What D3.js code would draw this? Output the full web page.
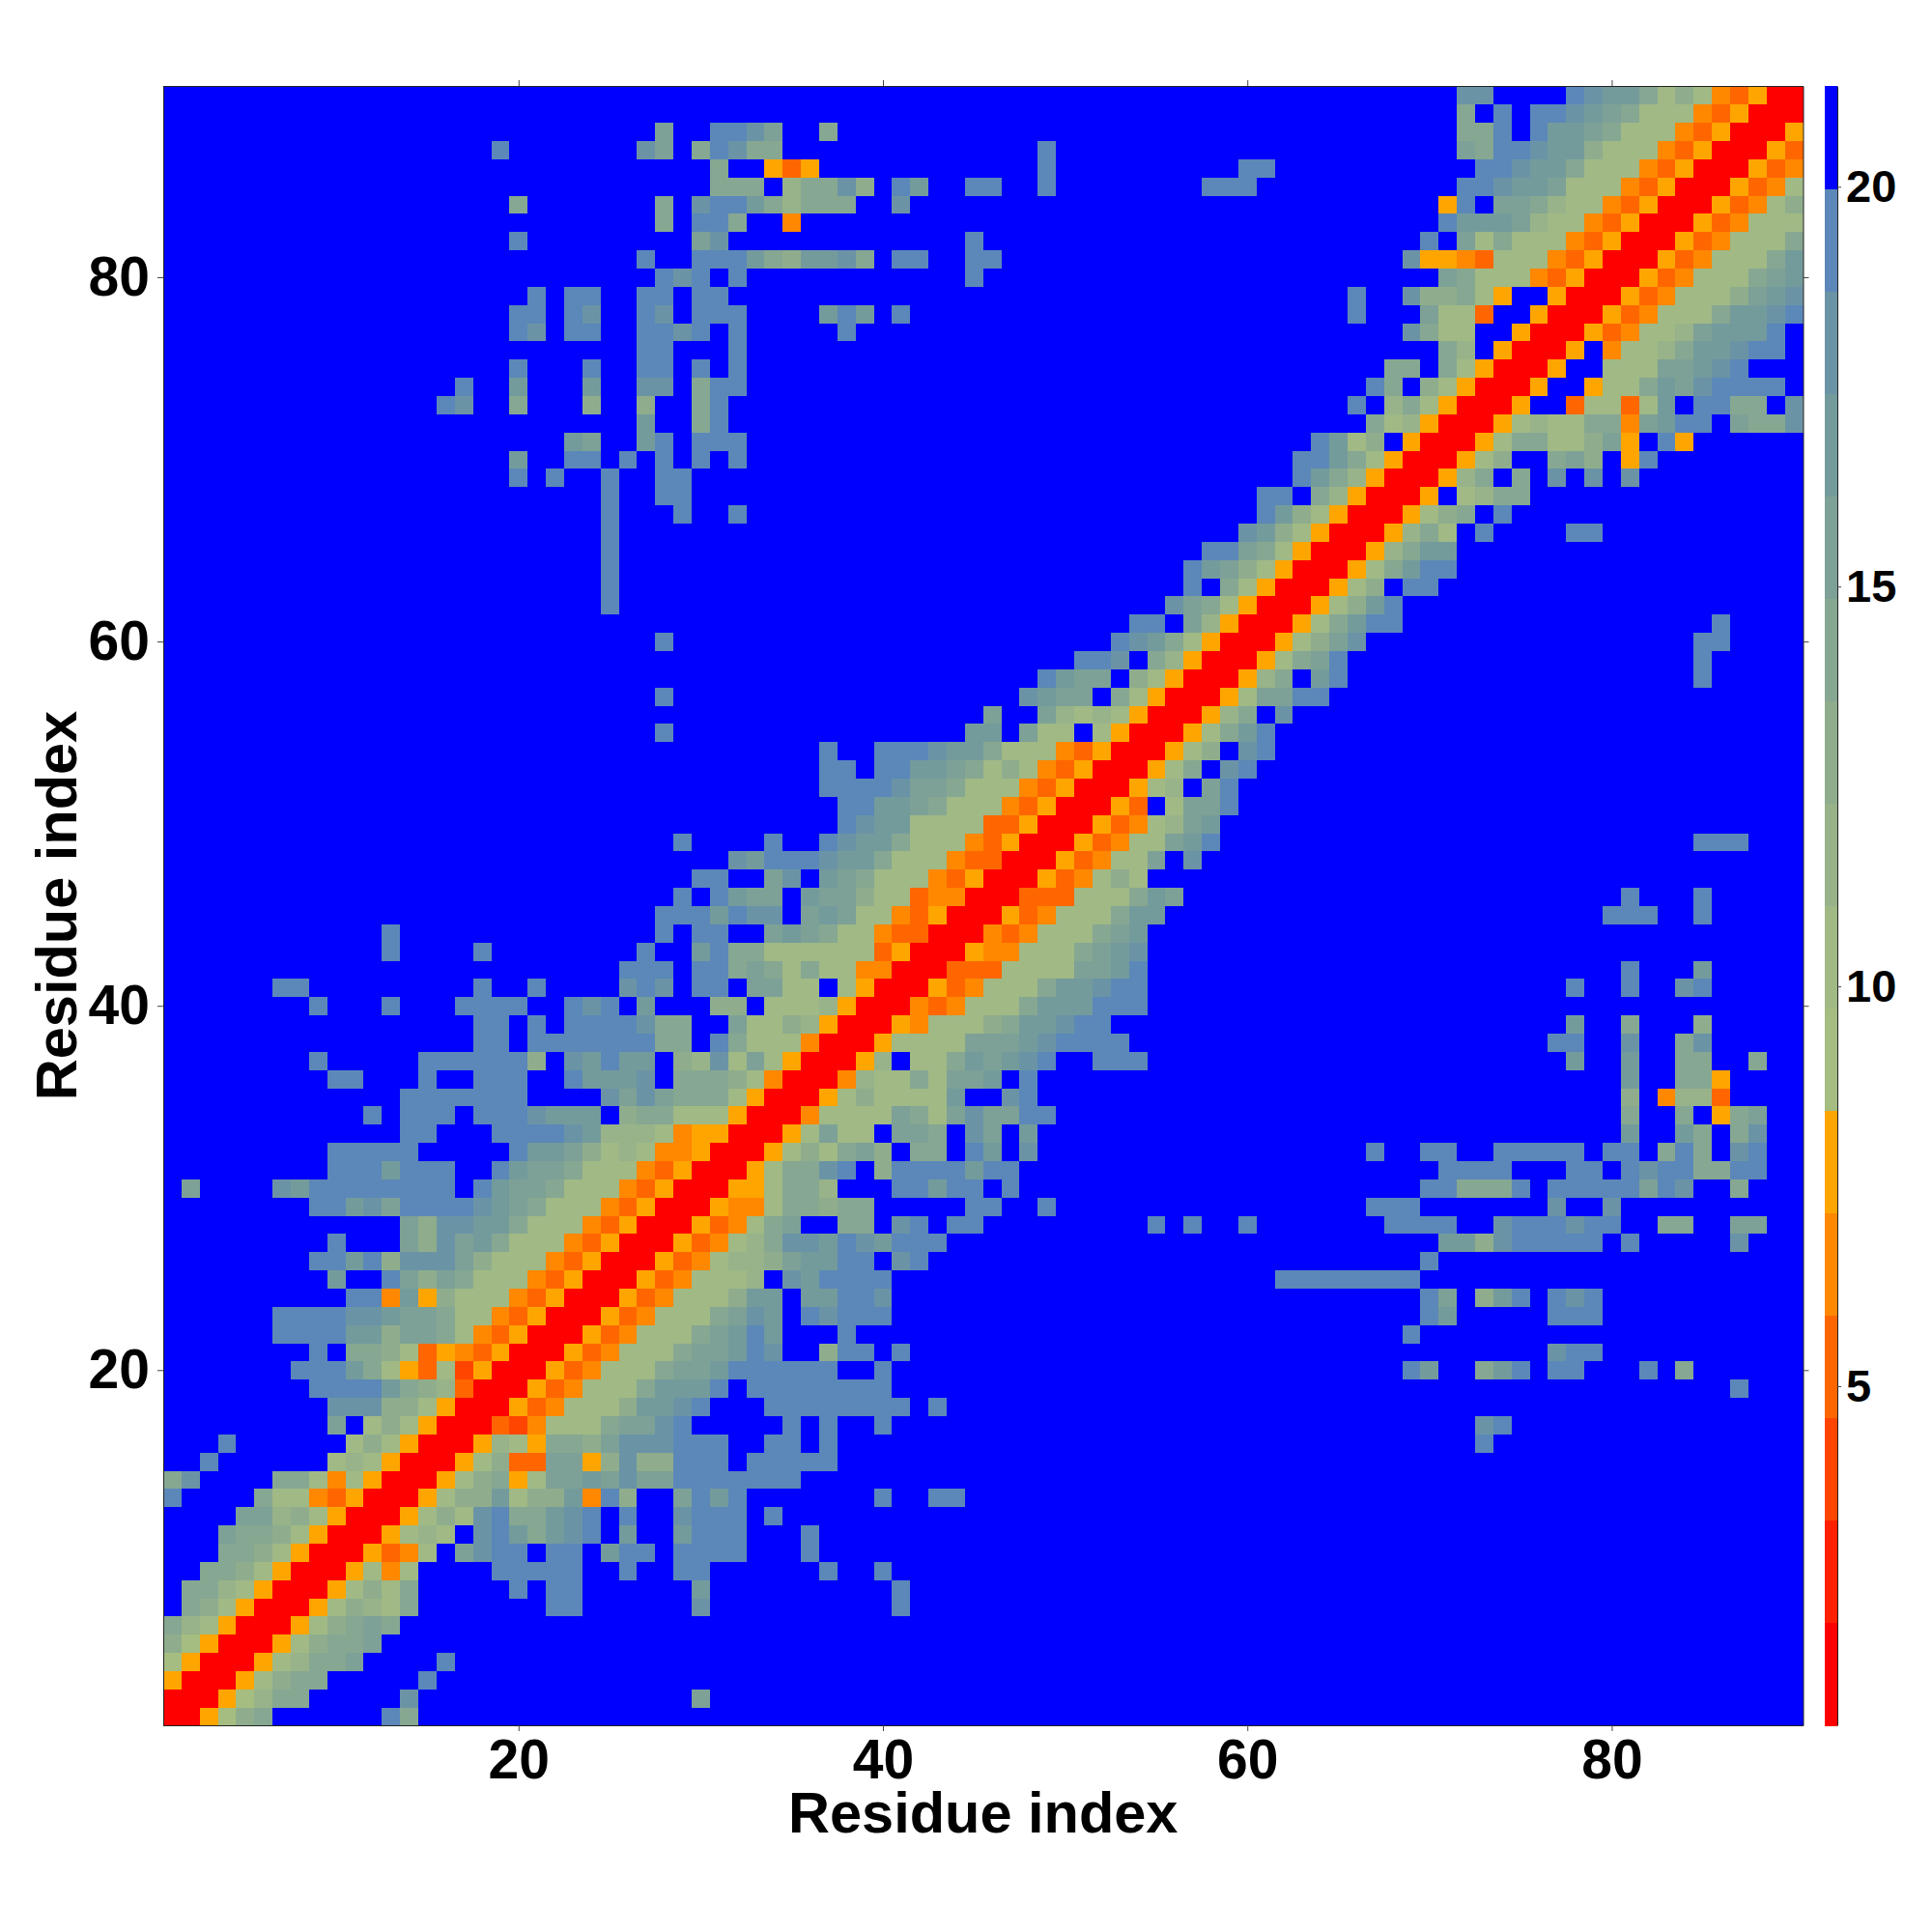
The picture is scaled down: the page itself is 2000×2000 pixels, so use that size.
<!DOCTYPE html>
<html><head><meta charset="utf-8">
<script src="https://cdn.jsdelivr.net/npm/d3@7"></script>
<style>
html,body{margin:0;padding:0;background:#fff}
svg{display:block}
text{font-family:"Liberation Sans",Arial,sans-serif;font-weight:bold;fill:#000}
</style></head><body>
<svg id="chart" width="2000" height="2000"></svg>
<script>
// Band colours of the colour bar, low to high
const bandColors = ["#ff0000","#ff2000","#ff4500","#ff6600","#ff8800","#ffa500",
  "#a5bd80","#a0b985","#98b389","#8fad8d","#86a792","#7da196","#749b9c","#6a94a6","#5b88b8","#0000ff"];
const bandCodes = "0123456789abcde.";
const valueRange = [0.76, 21.26];
const axisTicks = [20, 40, 60, 80];
const barTicks = [5, 10, 15, 20];
const axisTitle = "Residue index";
// The map is symmetric. One string per residue y (1..90), "x:levels" runs for x <= y; absent = top band.
const rows = [
"1:0","1:00","1:500","1:6500","1:96500","1:a87500","2:a97500","2:aa87500","3:aa97500","4:aa97500",
"4:baa97500","5:bb897500","1:e 6:a7743500","1:ad 7:aa747500","3:e 10:787500","4:e 11:797500","10:b 12:797500","10:ddd997500","9:eeeeca98300","8:eeeca75372500",
"9:e 11:aa973543500","7:eeeecc9bba743500","7:eeeeddcbba7743500","11:ee4c5977743500","10:c 13:eb9ba77743500","9:eece9dddb977743500","10:e 14:b9dbca77743500","14:b9ddcca77743500","9:eecdbeeeedcba77743500","2:b 7:dceeeeeeee 18:ecbba77743500",
"10:eeeceee 19:ecbba77743500","10:eeeee 20:eccb978744500","14:ee 19:eeeedc888745500","12:e 14:eee 18:eeedccc 26:9aa777500","14:eeeeeee 25:dbdbaaa7500","10:ee 15:e 18:eee 23:ecccd 29:aaa97400","9:e 15:eeeeee9 23:dcecc 29:98d7b7500","18:ee 21:eeeeeeeaa 31:ea777400","18:ee 21:e 23:eeeedaa 32:b7798500","9:e 13:e 17:eeee 23:ede 27:c 31:99 34:7778500",
"7:ee 18:e 21:e 26:ded 30:ee 33:bb77 38:7500","26:eee 30:eeaba7a774400","13:e 18:e 27:e 30:ceaa7777773500","13:e 28:e 30:ee 34:bcba7743300","28:eeecedd 36:bcb7743500","29:e 31:ecbb 36:cbb97734400","30:ee 34:bd 37:cba77743500","32:dceeedcca77743300","29:e 34:e 37:edcca77743500","38:edcc777733500",
"38:eeccba77743500","37:eeeedbba77743500","37:ee 40:eeccba79743500","37:e 40:eeedcca77743500","28:e 45:cc 48:b77 52:7500","46:b 49:b8787500","28:e 48:dcbb 53:a7500","49:ecbb 54:97500","51:eed 55:a8500","28:e 53:edca7500",
"54:ee 57:b8500","25:e 56:dba7500","25:e 57:e 59:a7500","25:e 57:ecb97500","25:e 58:eeba7500","25:e 60:dc97500","25:e 29:e 32:e 61:ec97500","25:e 28:ee 61:ee 64:a8500","20:e 22:e 25:e 28:ee 63:eca8500","20:c 23:ee 26:e 28:e 30:e 32:e 63:eeca7500",
"23:cb 27:ce 30:eee 64:ec79 69:500","27:c 30:ae 67:a78500","16:ed 20:a 24:9 27:9 30:ae 66:e 68:8a7500","17:e 20:c 24:c 27:dd 30:aee 67:ea 70:97500","20:e 24:e 27:ee 30:e 32:e 68:aa 71:a7500","27:ee 32:e 71:a8 74:500","20:ed 23:ee 27:eede 32:e 38:e 69:da77 75:500","20:ee 23:ed 27:ed 30:eee 37:cec 41:e 66:e 70:b773 76:500","21:e 23:ee 27:ee 30:ee 66:e 69:d99a75 77:500","28:ede 32:e 45:e 71:ba77743500",
"27:e 30:eeeca9ccda 41:ee 45:ee 69:d554377743500","20:e 30:bd 45:e 70:e 72:b7a77743500","28:a 30:eea 35:4 71:ecccb87743500","20:a 28:a 30:deeca8aaa 41:d 71:5e 74:bba87743500","31:aaa 35:8aad9 41:ec 45:ee 49:e 58:eee 72:eedccb77743500","31:a 34:535 49:e 60:ee 73:eedcca77743500","19:e 27:db 30:aedaa 49:e 72:baeedcc977743500","28:b 31:eedb 37:a 72:aae 76:eccba77743500","72:a 74:e 76:eedcba77743500","72:dd 78:edcca79743500"
];

const svg = d3.select("#chart");
const plot = {left:169, right:1866.5, top:89, bottom:1786};
const x = d3.scaleLinear().domain([0.5,90.5]).range([plot.left,plot.right]);
const y = d3.scaleLinear().domain([0.5,90.5]).range([plot.bottom,plot.top]);
const color = d3.scaleQuantize().domain(valueRange).range(bandColors);
const step = (valueRange[1]-valueRange[0])/bandColors.length;
const valueOfCode = c => valueRange[0] + step*(bandCodes.indexOf(c)+0.5);

const cells = [];
const lookup = new Map();
rows.forEach((r,ri)=>{
  const yi = ri+1;
  r.split(" ").forEach(tok=>{
    const [start,codes] = tok.split(":");
    [...codes].forEach((c,k)=>{
      const xi = +start+k;
      lookup.set(xi+","+yi,c);
      lookup.set(yi+","+xi,c);
    });
  });
});
for(let yi=1;yi<=90;yi++) for(let xi=1;xi<=90;xi++){
  cells.push({x:xi,y:yi,v:valueOfCode(lookup.get(xi+","+yi)||".")});
}
svg.append("g").attr("shape-rendering","crispEdges").selectAll("rect").data(cells).join("rect")
  .attr("x",d=>x(d.x-0.5)).attr("y",d=>y(d.y+0.5))
  .attr("width",d=>x(d.x+0.5)-x(d.x-0.5)+0.5).attr("height",d=>y(d.y-0.5)-y(d.y+0.5)+0.5)
  .attr("fill",d=>color(d.v));

function styleAxis(g,size){
  g.selectAll("path.domain").attr("stroke","#222").attr("stroke-width",1);
  g.selectAll(".tick line").attr("stroke","#444").attr("stroke-width",1);
  g.selectAll("text").style("font-size",size+"px").style("font-weight","bold")
   .style("font-family","'Liberation Sans',Arial,sans-serif").attr("fill","#000");
  g.attr("font-family",null).attr("font-size",null);
}
const none = ()=>"";
svg.append("g").attr("transform",`translate(0,${plot.bottom})`)
  .call(d3.axisBottom(x).tickValues(axisTicks).tickSize(6).tickPadding(9).tickSizeOuter(0))
  .call(g=>styleAxis(g,57));
svg.append("g").attr("transform",`translate(0,${plot.top})`)
  .call(d3.axisTop(x).tickValues(axisTicks).tickSize(6).tickFormat(none).tickSizeOuter(0))
  .call(g=>styleAxis(g,57));
svg.append("g").attr("transform",`translate(${plot.left},0)`)
  .call(d3.axisLeft(y).tickValues(axisTicks).tickSize(6).tickPadding(8).tickSizeOuter(0))
  .call(g=>styleAxis(g,57));
svg.append("g").attr("transform",`translate(${plot.right},0)`)
  .call(d3.axisRight(y).tickValues(axisTicks).tickSize(6).tickFormat(none).tickSizeOuter(0))
  .call(g=>styleAxis(g,57));

svg.append("text").attr("x",(plot.left+plot.right)/2).attr("y",1897)
  .attr("text-anchor","middle").style("font-size","59.5px").text(axisTitle);
svg.append("text").attr("transform",`translate(79,${(plot.top+plot.bottom)/2}) rotate(-90)`)
  .attr("text-anchor","middle").style("font-size","59.5px").text(axisTitle);

// Colour bar
const bar = {left:1889,right:1902};
const barY = d3.scaleLinear().domain(valueRange).range([plot.bottom,plot.top]);
svg.append("g").attr("shape-rendering","crispEdges").selectAll("rect").data(bandColors).join("rect")
  .attr("x",bar.left).attr("width",bar.right-bar.left)
  .attr("y",(d,i)=>barY(valueRange[0]+step*(i+1)))
  .attr("height",(d,i)=>barY(valueRange[0]+step*i)-barY(valueRange[0]+step*(i+1))+0.5)
  .attr("fill",d=>d);
svg.append("g").attr("transform",`translate(${bar.right},0)`)
  .call(d3.axisRight(barY).tickValues(barTicks).tickSize(4).tickPadding(5).tickSizeOuter(0))
  .call(g=>styleAxis(g,47));
</script>
</body></html>
